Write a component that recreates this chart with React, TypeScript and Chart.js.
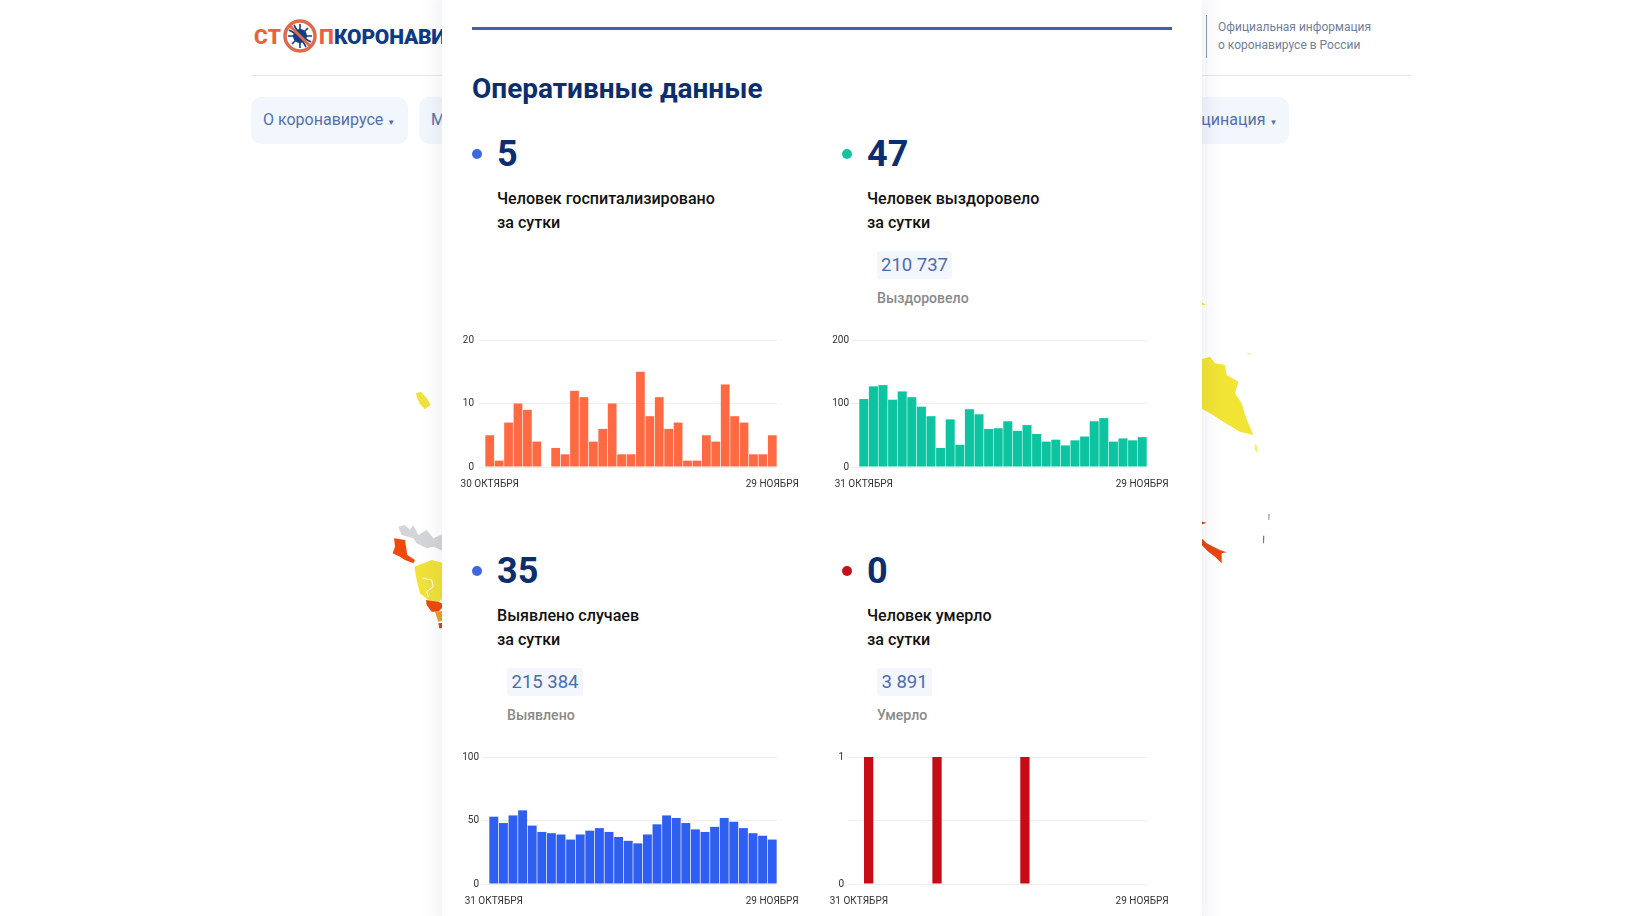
import React, { useEffect, useRef } from "react";
import { Chart, registerables } from "chart.js";

Chart.register(...registerables);

const datesFrom30Oct = [
  "30 ОКТЯБРЯ", "31 ОКТЯБРЯ", "1 НОЯБРЯ", "2 НОЯБРЯ", "3 НОЯБРЯ", "4 НОЯБРЯ", "5 НОЯБРЯ", "6 НОЯБРЯ",
  "7 НОЯБРЯ", "8 НОЯБРЯ", "9 НОЯБРЯ", "10 НОЯБРЯ", "11 НОЯБРЯ", "12 НОЯБРЯ", "13 НОЯБРЯ", "14 НОЯБРЯ",
  "15 НОЯБРЯ", "16 НОЯБРЯ", "17 НОЯБРЯ", "18 НОЯБРЯ", "19 НОЯБРЯ", "20 НОЯБРЯ", "21 НОЯБРЯ", "22 НОЯБРЯ",
  "23 НОЯБРЯ", "24 НОЯБРЯ", "25 НОЯБРЯ", "26 НОЯБРЯ", "27 НОЯБРЯ", "28 НОЯБРЯ", "29 НОЯБРЯ",
];
const datesFrom31Oct = datesFrom30Oct.slice(1);

const hospitalized = [5, 1, 7, 10, 9, 4, 0, 3, 2, 12, 11, 4, 6, 10, 2, 2, 15, 8, 11, 6, 7, 1, 1, 5, 4, 13, 8, 7, 2, 2, 5];
const recovered = [107, 127, 129, 106, 119, 110, 95, 80, 30, 75, 35, 91, 83, 60, 61, 72, 57, 66, 52, 40, 43, 34, 42, 48, 72, 77, 40, 45, 42, 47];
const detected = [53, 48, 54, 58, 46, 41, 40, 39, 35, 39, 42, 44, 41, 37, 34, 32, 39, 47, 54, 52, 48, 43, 41, 45, 52, 49, 44, 40, 38, 35];
const deaths = [0, 1, 0, 0, 0, 0, 0, 0, 1, 0, 0, 0, 0, 0, 0, 0, 0, 1, 0, 0, 0, 0, 0, 0, 0, 0, 0, 0, 0, 0];

const FONT = "Roboto, sans-serif";
const NAVY = "#0c2e6e";

type BarProps = {
  labels: string[]; values: number[]; color: string; max: number; step: number;
  plotLeft: number; plotRight: number; plotTop: number; plotBottom: number;
  tick: number; tickPad: number; pct: number; hideMiddle?: boolean;
};

function BarChart(p: BarProps) {
  const ref = useRef<HTMLCanvasElement>(null);
  const axisW = 48, axisH = 34, padTop = 14, padRight = 36;
  useEffect(() => {
    const last = p.labels.length - 1;
    const chart = new Chart(ref.current!, {
      type: "bar",
      data: {
        labels: p.labels,
        datasets: [{ data: p.values, backgroundColor: p.color, categoryPercentage: 1, barPercentage: p.pct, borderWidth: 0 }],
      },
      options: {
        animation: false,
        responsive: false,
        events: [],
        layout: { padding: { top: padTop, right: padRight, left: 0, bottom: 0 } },
        plugins: { legend: { display: false }, tooltip: { enabled: false } },
        scales: {
          x: {
            afterFit: (s: any) => { s.height = axisH; },
            grid: { display: false },
            border: { display: false },
            ticks: {
              autoSkip: false, maxRotation: 0, minRotation: 0, padding: 3,
              color: "#333", font: { family: FONT, size: 10 },
              callback: (_v: any, i: number) => (i === 0 || i === last ? p.labels[i] : ""),
            },
          },
          y: {
            min: 0, max: p.max,
            afterFit: (s: any) => { s.width = axisW; },
            grid: { color: "#eeeeee", lineWidth: 1, tickLength: p.tick },
            border: { display: false },
            ticks: {
              stepSize: p.step, padding: p.tickPad, color: "#333", font: { family: FONT, size: 10 },
              callback: (v: any) => (p.hideMiddle && v !== 0 && v !== p.max ? "" : v),
            },
          },
        },
      },
    } as any);
    return () => chart.destroy();
  }, []);
  const w = p.plotRight - p.plotLeft + axisW + padRight;
  const h = p.plotBottom - p.plotTop + axisH + padTop;
  return (
    <canvas ref={ref} width={w} height={h}
      style={{ position: "absolute", left: p.plotLeft - axisW, top: p.plotTop - padTop, width: w, height: h }} />
  );
}

const abs = (left: number, top: number, extra: React.CSSProperties = {}): React.CSSProperties => ({
  position: "absolute", left, top, whiteSpace: "nowrap", ...extra,
});

function Stat(p: { x: number; y: number; dot: string; value: string; l1: string; l2: string; pill?: string; sub?: string; pillX?: number; pillW?: number }) {
  return (
    <>
      <div style={abs(p.x, p.y - 5, { width: 10, height: 10, borderRadius: 5, background: p.dot })} />
      <div style={abs(p.x + 25, p.y - 22, { font: `700 36px/44px ${FONT}`, color: NAVY })}>{p.value}</div>
      <div style={abs(p.x + 25, p.y + 33, { font: `500 16.1px/24px ${FONT}`, color: "#111" })}>{p.l1}<br />{p.l2}</div>
      {p.pill && (
        <>
          <div style={abs(p.pillX!, p.y + 97, { width: p.pillW, height: 28, borderRadius: 3, background: "#f3f6fc", textAlign: "center", font: `400 18.5px/28px ${FONT}`, color: "#4d6cae" })}>{p.pill}</div>
          <div style={abs(p.pillX!, p.y + 134, { font: `500 14.1px/20px ${FONT}`, color: "#8a8a8a" })}>{p.sub}</div>
        </>
      )}
    </>
  );
}

export default function App() {
  return (
    <div style={{ position: "fixed", left: 0, top: 0, width: 1629, height: 916, overflow: "hidden", background: "#fff", fontFamily: FONT }}>
      {/* site header behind the panel */}
      <div style={abs(254, 22, { font: `900 21px/30px ${FONT}`, color: "#e8623f", letterSpacing: 0.3 })}>СТ</div>
      <svg width="40" height="40" style={{ position: "absolute", left: 280, top: 16 }} viewBox="0 0 40 40">
        <circle cx="20" cy="20" r="15" fill="#fff" stroke="#e06a4c" strokeWidth="3.5" />
        <g stroke="#123c86" strokeWidth="1.6">
          <path d="M20 8 V32 M8 20 H32 M12 12 L28 28 M12 28 L28 12 M14 9 L26 31 M9 14 L31 26" />
        </g>
        <circle cx="20" cy="20" r="7" fill="#123c86" />
        <path d="M9 9 L31 31" stroke="#e06a4c" strokeWidth="3" />
      </svg>
      <div style={abs(319, 22, { font: `900 21px/30px ${FONT}`, color: "#e8623f" })}>П</div>
      <div style={abs(334, 22, { font: `900 21px/30px ${FONT}`, color: "#0b3a86", letterSpacing: -0.2 })}>КОРОНАВИРУС</div>

      <div style={abs(251, 75, { width: 1160, height: 1, background: "#e6e6e6" })} />
      <div style={abs(1206, 15, { width: 1, height: 43, background: "#8fa0bd" })} />
      <div style={abs(1218, 18, { font: `400 12px/18px ${FONT}`, color: "#6f7f9b" })}>Официальная информация<br />о коронавирусе в России</div>

      <div style={abs(251, 97, { width: 157, height: 47, borderRadius: 10, background: "#f2f6fd" })} />
      <div style={abs(263, 96, { font: `400 16px/47px ${FONT}`, color: "#5470aa" })}>О коронавирусе <span style={{ fontSize: 8 }}>▼</span></div>
      <div style={abs(419, 97, { width: 100, height: 47, borderRadius: 10, background: "#f2f6fd" })} />
      <div style={abs(431, 96, { font: `400 16px/47px ${FONT}`, color: "#5470aa" })}>Меры</div>
      <div style={abs(1120, 97, { width: 169, height: 47, borderRadius: 10, background: "#f2f6fd" })} />
      <div style={abs(1174, 96, { font: `400 16px/47px ${FONT}`, color: "#5470aa" })}>Вакцинация <span style={{ fontSize: 8 }}>▼</span></div>

      {/* map fragments behind the panel */}
      <svg width="1629" height="916" style={{ position: "absolute", left: 0, top: 0 }}>
        <g transform="translate(370 370) scale(0.3333)">
          <polygon fill="#f0e23a" points="137,70 152,65 168,82 182,105 165,118 148,100" />
          <polygon fill="#d4d5d8" points="85,470 105,465 120,480 130,465 145,495 170,480 190,505 225,490 225,545 190,530 170,535 140,520 130,505 95,495" />
          <polygon fill="#f04a0a" points="72,505 105,510 112,555 135,570 130,580 105,570 90,560 68,550 75,530" />
          <polygon fill="#f0e23a" points="133,590 185,570 225,580 225,680 205,695 175,690 150,670 140,630" />
          <polyline fill="none" stroke="#fff" strokeWidth="3" points="160,625 185,630 190,650 170,665 175,680" />
          <polygon fill="#ee4a0c" points="168,690 205,695 225,705 205,725 185,725 170,705" />
          <polygon fill="#f0a020" points="195,725 225,722 225,750 205,755" />
          <polygon fill="#b8502a" points="205,760 225,758 225,775 208,775" />
        </g>
        <g transform="translate(1190 290) scale(0.3333)">
          <polygon fill="#f2e435" points="25,210 60,200 75,220 105,225 110,255 145,275 135,310 155,340 165,375 190,435 150,425 100,395 60,370 25,350" />
          <polygon fill="#f0e23a" points="25,30 48,45 25,45" />
          <polygon fill="#f2ec7a" points="195,460 203,470 200,490 193,475" />
          <polygon fill="#f5f0a8" points="165,190 185,188 180,195" />
          <polygon fill="#d6431a" points="25,692 50,698 25,707" />
          <polygon fill="#e8460e" points="25,735 50,760 70,770 90,780 110,787 95,790 95,820 75,800 55,785 25,755" />
          <polygon fill="#999" points="235,672 239,672 238,690 235,690" />
          <polygon fill="#777" points="219,737 223,737 222,760 219,760" />
        </g>
      </svg>

      {/* white panel */}
      <div style={abs(442, -10, { width: 760, height: 940, background: "#fff", boxShadow: "0 0 22px rgba(30,50,90,0.10)" })} />
      <div style={abs(472, 27, { width: 700, height: 3, background: "#3f63ab" })} />
      <div style={abs(472, 71, { font: `700 28px/36px ${FONT}`, color: NAVY })}>Оперативные данные</div>

      <Stat x={472} y={154} dot="#3f67e0" value="5" l1="Человек госпитализировано" l2="за сутки" />
      <Stat x={842} y={154} dot="#14c4a0" value="47" l1="Человек выздоровело" l2="за сутки" pill="210 737" sub="Выздоровело" pillX={877} pillW={75} />
      <Stat x={472} y={571} dot="#3f67e0" value="35" l1="Выявлено случаев" l2="за сутки" pill="215 384" sub="Выявлено" pillX={507} pillW={76} />
      <Stat x={842} y={571} dot="#c6101c" value="0" l1="Человек умерло" l2="за сутки" pill="3 891" sub="Умерло" pillX={877} pillW={55} />

      <BarChart labels={datesFrom30Oct} values={hospitalized} color="#ff6a42" max={20} step={10}
        plotLeft={485} plotRight={777} plotTop={340} plotBottom={467} tick={7} tickPad={4} pct={0.93} />
      <BarChart labels={datesFrom31Oct} values={recovered} color="#0cc4a0" max={200} step={100}
        plotLeft={859} plotRight={1147} plotTop={340} plotBottom={467} tick={8} tickPad={2} pct={0.94} />
      <BarChart labels={datesFrom31Oct} values={detected} color="#2f5ff0" max={100} step={50}
        plotLeft={489} plotRight={777} plotTop={757} plotBottom={884} tick={6} tickPad={4} pct={0.93} />
      <BarChart labels={datesFrom31Oct} values={deaths} color="#c50c17" max={1} step={0.5} hideMiddle
        plotLeft={854} plotRight={1147} plotTop={757} plotBottom={884} tick={6} tickPad={4} pct={0.95} />
    </div>
  );
}
